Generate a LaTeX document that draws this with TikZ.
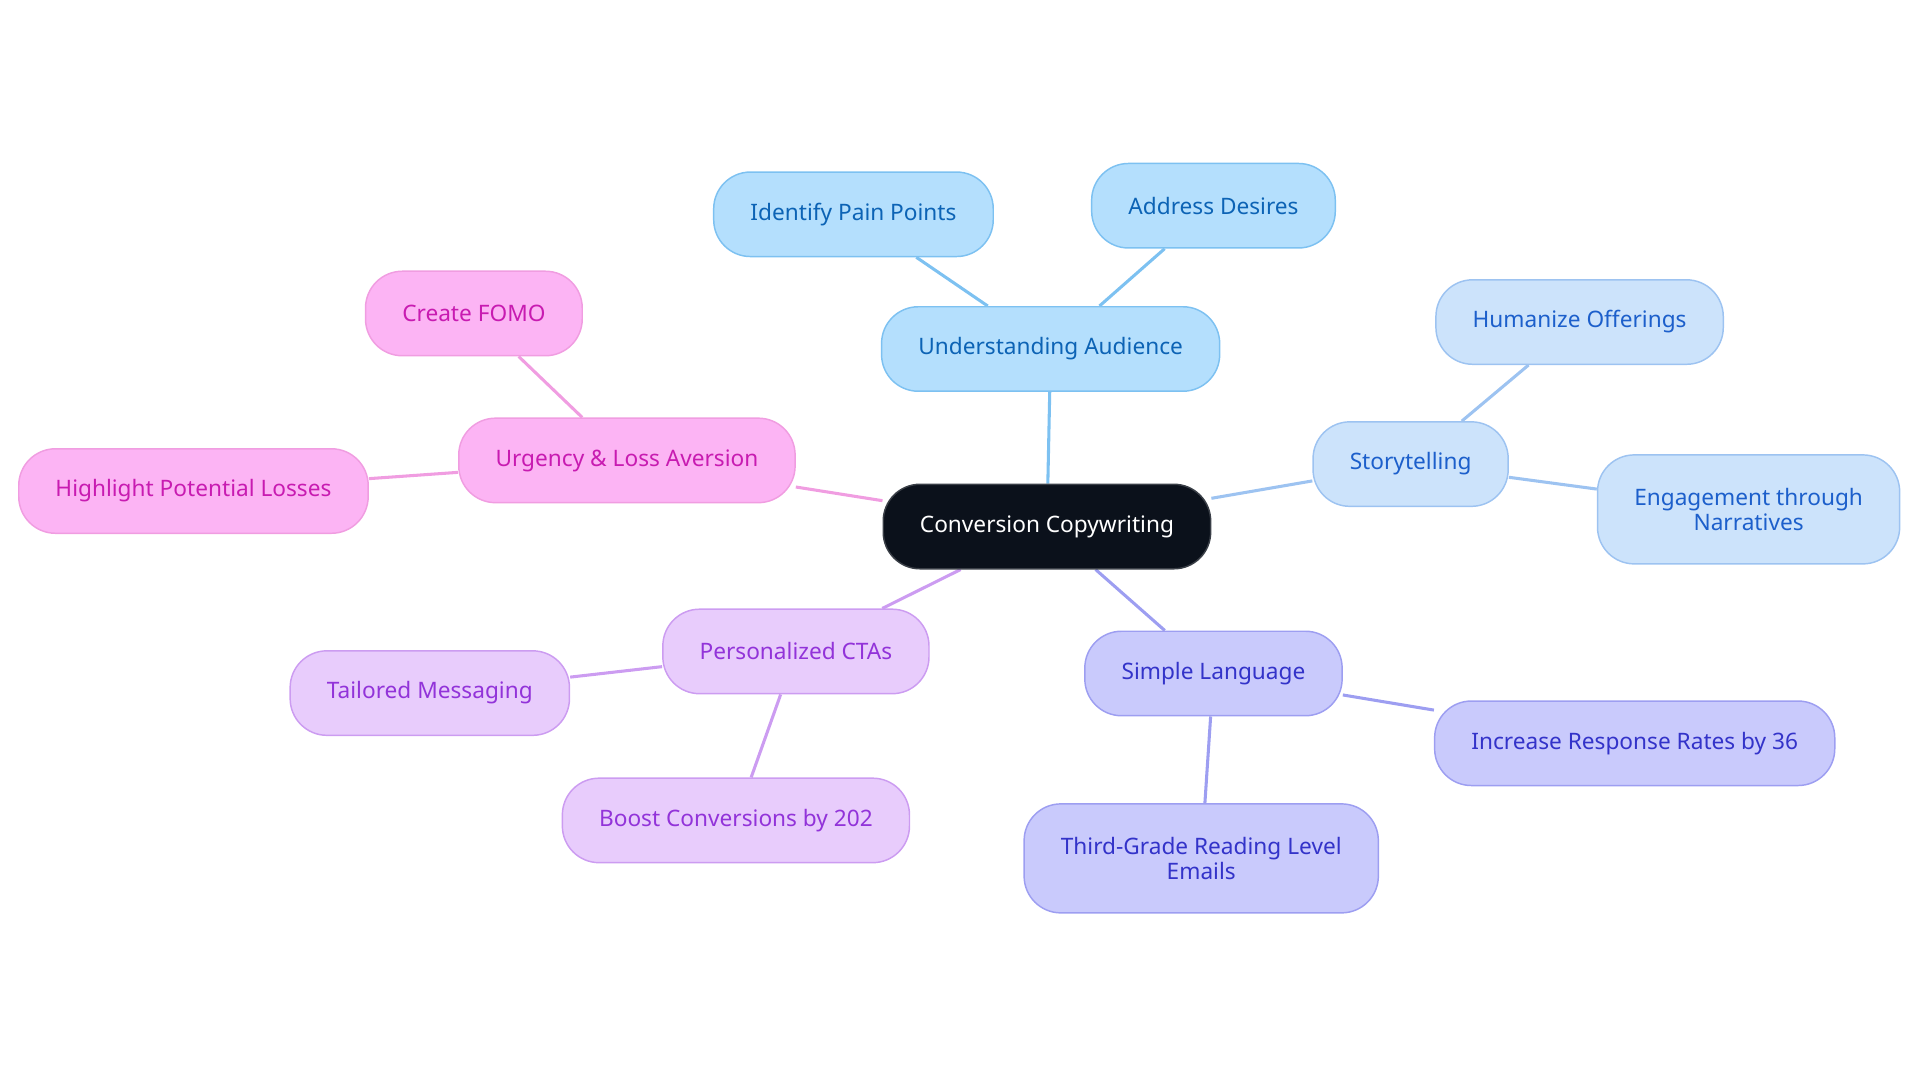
\documentclass[tikz,border=0pt]{standalone}
\usepackage{fontspec}
\setmainfont{Noto Sans}
\usepackage{tikz}
\usetikzlibrary{backgrounds}

\definecolor{rootfill}{HTML}{0B111B}
\definecolor{rootdraw}{HTML}{3A3F47}
\definecolor{audfill}{HTML}{B4DFFD}
\definecolor{audline}{HTML}{7DC1F1}
\definecolor{audtext}{HTML}{0C63B5}
\definecolor{storyfill}{HTML}{CCE3FB}
\definecolor{storyline}{HTML}{9DC3F1}
\definecolor{storytext}{HTML}{1C5FCB}
\definecolor{simplefill}{HTML}{C9CAFC}
\definecolor{simpleline}{HTML}{9D9EF1}
\definecolor{simpletext}{HTML}{3333C9}
\definecolor{ctafill}{HTML}{E8CCFC}
\definecolor{ctaline}{HTML}{CC9CF1}
\definecolor{ctatext}{HTML}{9233D9}
\definecolor{urgfill}{HTML}{FCB4F4}
\definecolor{urgline}{HTML}{F09DE1}
\definecolor{urgtext}{HTML}{C81BB1}

\tikzset{
  mapnode/.style={draw, line width=1.2pt, rounded corners=30pt, minimum height=69pt,
    inner xsep=30pt, align=center, font=\fontsize{18.5}{20.5}\selectfont},
  rootnode/.style={mapnode, fill=rootfill, draw=rootdraw, text=white},
  audnode/.style={mapnode, fill=audfill, draw=audline, text=audtext},
  storynode/.style={mapnode, fill=storyfill, draw=storyline, text=storytext},
  simplenode/.style={mapnode, fill=simplefill, draw=simpleline, text=simpletext},
  ctanode/.style={mapnode, fill=ctafill, draw=ctaline, text=ctatext},
  urgnode/.style={mapnode, fill=urgfill, draw=urgline, text=urgtext},
  link/.style={line width=2.5pt}
}

\begin{document}
\begin{tikzpicture}[x=1pt, y=-1pt]
    \useasboundingbox (0,0) rectangle (1568,884);

    % centre
    \node[rootnode] (root) at (855,430) {Conversion Copywriting};

    % understanding audience
    \node[audnode] (aud) at (858,285) {Understanding Audience};
    \node[audnode] (pain) at (697,175) {Identify Pain Points};
    \node[audnode] (desire) at (991,168) {Address Desires};

    % storytelling
    \node[storynode] (story) at (1152,379) {Storytelling};
    \node[storynode] (human) at (1290,263) {Humanize Offerings};
    \node[storynode, minimum height=89pt] (engage) at (1428,416) {Engagement through\\Narratives};

    % simple language
    \node[simplenode] (simple) at (991,550) {Simple Language};
    \node[simplenode] (response) at (1335,607) {Increase Response Rates by 36};
    \node[simplenode, minimum height=89pt] (grade) at (981,701) {Third-Grade Reading Level\\Emails};

    % personalized CTAs
    \node[ctanode] (cta) at (650,532) {Personalized CTAs};
    \node[ctanode] (tailor) at (351,566) {Tailored Messaging};
    \node[ctanode] (boost) at (601,670) {Boost Conversions by 202};

    % urgency
    \node[urgnode] (urg) at (512,376) {Urgency \& Loss Aversion};
    \node[urgnode] (fomo) at (387,256) {Create FOMO};
    \node[urgnode] (loss) at (158,401) {Highlight Potential Losses};

    \begin{scope}[on background layer]
      \draw[link, audline] (root) -- (aud);
      \draw[link, audline] (aud) -- (pain);
      \draw[link, audline] (aud) -- (desire);
      \draw[link, storyline] (root) -- (story);
      \draw[link, storyline] (story) -- (human);
      \draw[link, storyline] (story) -- (engage);
      \draw[link, simpleline] (root) -- (simple);
      \draw[link, simpleline] (simple) -- (response);
      \draw[link, simpleline] (simple) -- (grade);
      \draw[link, ctaline] (root) -- (cta);
      \draw[link, ctaline] (cta) -- (tailor);
      \draw[link, ctaline] (cta) -- (boost);
      \draw[link, urgline] (root) -- (urg);
      \draw[link, urgline] (urg) -- (fomo);
      \draw[link, urgline] (urg) -- (loss);
    \end{scope}
\end{tikzpicture}
\end{document}
